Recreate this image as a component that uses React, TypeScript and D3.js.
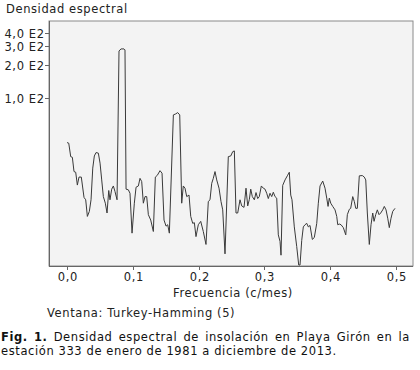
import React, { useEffect, useRef } from "react";
import * as d3 from "d3";

// frecuencia (c/mes) y densidad espectral
const freqs = [
  0.0, 0.0026, 0.0056, 0.0081, 0.0106, 0.0132, 0.0157, 0.0182, 0.0217, 0.0258,
  0.0284, 0.0309, 0.0339, 0.0365, 0.0391, 0.0415, 0.0441, 0.0476, 0.0502, 0.0527,
  0.0552, 0.0582, 0.0608, 0.0634, 0.0653, 0.0679, 0.0704, 0.0729, 0.076, 0.079,
  0.0821, 0.0866, 0.0881, 0.0897, 0.0932, 0.0957, 0.0988, 0.1023, 0.1049, 0.1084,
  0.1109, 0.1135, 0.116, 0.1185, 0.1211, 0.1236, 0.1272, 0.1312, 0.1342, 0.1372,
  0.1413, 0.1444, 0.1474, 0.1505, 0.153, 0.1555, 0.1616, 0.1652, 0.1682, 0.1713,
  0.1743, 0.1767, 0.1793, 0.1819, 0.1854, 0.188, 0.191, 0.1935, 0.196, 0.1995,
  0.2032, 0.2071, 0.2112, 0.2147, 0.2173, 0.2199, 0.2223, 0.2249, 0.2275, 0.231,
  0.234, 0.2366, 0.2401, 0.2451, 0.2488, 0.2518, 0.2543, 0.2568, 0.2594, 0.2629,
  0.2655, 0.269, 0.272, 0.2746, 0.2771, 0.2792, 0.2816, 0.2847, 0.2872, 0.2898,
  0.2922, 0.2953, 0.2983, 0.3009, 0.3035, 0.3059, 0.3085, 0.3111, 0.3135, 0.3161,
  0.3187, 0.3211, 0.3237, 0.3252, 0.3278, 0.3313, 0.3348, 0.3378, 0.34, 0.3419,
  0.3454, 0.3491, 0.3521, 0.3541, 0.3567, 0.3591, 0.3617, 0.3643, 0.3667, 0.3693,
  0.3728, 0.3758, 0.3795, 0.3819, 0.3845, 0.3886, 0.3921, 0.3947, 0.3967, 0.3986,
  0.4008, 0.4038, 0.4073, 0.4099, 0.4114, 0.4138, 0.4164, 0.4199, 0.4236, 0.426,
  0.429, 0.4311, 0.4342, 0.4366, 0.4388, 0.4412, 0.4442, 0.4488, 0.4518, 0.454,
  0.4564, 0.4594, 0.462, 0.4646, 0.4666, 0.4691, 0.4716, 0.4742, 0.4767, 0.4798,
  0.4822, 0.4848, 0.4874, 0.4898, 0.4924, 0.495, 0.4985,
];
const densidad = [
  38.6, 38.1, 28.6, 28.2, 20.8, 20.5, 15.6, 18.5, 18.5, 12.0,
  11.4, 8.0, 8.9, 11.4, 22.4, 29.0, 31.2, 30.8, 24.9, 17.4,
  12.2, 10.6, 8.6, 13.9, 11.4, 14.3, 15.3, 13.6, 11.4, 272,
  284, 284, 278, 14.3, 14.1, 13.1, 5.6, 10.6, 14.9, 15.3,
  18.0, 16.8, 10.6, 12.2, 12.2, 8.3, 7.4, 5.8, 18.5, 19.2,
  21.2, 20.1, 7.4, 6.5, 6.7, 5.6, 69.6, 71.1, 73.1, 69.6,
  10.6, 15.3, 14.6, 12.2, 12.6, 8.0, 6.9, 7.0, 5.2, 6.7,
  7.2, 5.8, 4.4, 11.0, 11.4, 16.2, 18.0, 20.8, 17.4, 14.6,
  11.0, 9.2, 3.6, 28.6, 29.0, 31.8, 32.3, 8.6, 8.6, 11.4,
  10.0, 9.7, 14.6, 10.0, 11.5, 14.3, 12.2, 11.4, 13.3, 11.7,
  12.2, 15.3, 14.6, 14.3, 13.1, 11.7, 13.1, 12.2, 13.4, 12.2,
  11.8, 5.4, 4.7, 3.5, 15.5, 17.4, 19.0, 20.5, 12.6, 11.4,
  6.4, 4.2, 2.84, 2.84, 4.8, 6.4, 6.7, 6.9, 6.4, 6.6,
  4.9, 5.1, 6.9, 10.6, 15.3, 17.0, 14.6, 11.8, 9.9, 11.8,
  10.6, 9.9, 9.2, 8.0, 6.7, 6.8, 6.7, 6.3, 5.4, 8.3,
  9.3, 9.5, 12.2, 11.0, 9.5, 9.5, 19.0, 19.1, 18.5, 17.4,
  8.6, 4.4, 6.7, 8.6, 7.2, 8.3, 9.2, 8.3, 8.6, 9.2,
  9.9, 9.2, 7.7, 6.3, 7.7, 8.9, 9.5,
];
const xTicks = [0, 0.1, 0.2, 0.3, 0.4, 0.5];
const yTicks = [100, 200, 300, 400];
const yTickLabels = ["1,0 E2", "2,0 E2", "3,0 E2", "4,0 E2"];

const captionBold = "Fig. 1.";
const captionLine1 = "Densidad espectral de insolación en Playa Girón en la";
const captionLine2 = "estación 333 de enero de 1981 a diciembre de 2013.";

const font = "'DejaVu Sans', Verdana, sans-serif";
const fontSize = 11.5;
const spacing = 0.6;

export default function App() {
  const ref = useRef<SVGSVGElement>(null);

  useEffect(() => {
    document.body.style.margin = "0";
    const svg = d3.select(ref.current);
    svg.selectAll("*").remove();

    const left = 49, top = 21, right = 413, bottom = 266;

    const x = d3.scaleLinear().domain([-0.0274, 0.5258]).range([left, right]);
    const y = d3.scaleLog().domain([2.78, 515]).range([bottom, top]);

    svg.append("rect")
      .attr("x", left).attr("y", top)
      .attr("width", right - left).attr("height", bottom - top)
      .attr("fill", "#f3f3f3")
      .attr("stroke", "#8a8a8a");

    const pts = freqs.map((f, i) => [f, densidad[i]] as [number, number]);
    const line = d3.line<[number, number]>()
      .x((d) => x(d[0]))
      .y((d) => Math.min(y(d[1]), bottom));

    svg.append("path")
      .datum(pts)
      .attr("d", line)
      .attr("fill", "none")
      .attr("stroke", "#3a3a3a")
      .attr("stroke-width", 1);

    // ejes
    svg.append("line")
      .attr("x1", left + 0.5).attr("x2", left + 0.5)
      .attr("y1", top).attr("y2", bottom)
      .attr("stroke", "#666");
    svg.append("line")
      .attr("x1", left).attr("x2", right)
      .attr("y1", bottom + 0.5).attr("y2", bottom + 0.5)
      .attr("stroke", "#666");

    const txt = (g: any) =>
      g.attr("font-family", font).attr("font-size", fontSize)
        .attr("letter-spacing", spacing).attr("fill", "#222");

    const gx = svg.append("g").call(txt);
    xTicks.forEach((t) => {
      const px = Math.round(x(t)) + 0.5;
      gx.append("line")
        .attr("x1", px).attr("x2", px)
        .attr("y1", bottom).attr("y2", bottom + 4)
        .attr("stroke", "#666");
      gx.append("text")
        .attr("x", px + spacing / 2).attr("y", 281)
        .attr("text-anchor", "middle")
        .text(t.toFixed(1).replace(".", ","));
    });

    const gy = svg.append("g").call(txt);
    yTicks.forEach((t, i) => {
      const py = Math.round(y(t)) + 0.5;
      gy.append("line")
        .attr("x1", left - 4).attr("x2", left)
        .attr("y1", py).attr("y2", py)
        .attr("stroke", "#666");
      gy.append("text")
        .attr("x", left - 5 + spacing).attr("y", py + 4)
        .attr("text-anchor", "end")
        .text(yTickLabels[i]);
    });

    svg.append("text").call(txt)
      .attr("x", 6).attr("y", 13)
      .text("Densidad espectral");

    svg.append("text").call(txt)
      .attr("x", 233).attr("y", 297)
      .attr("text-anchor", "middle")
      .text("Frecuencia (c/mes)");

    svg.append("text").call(txt)
      .attr("x", 47).attr("y", 317)
      .text("Ventana: Turkey-Hamming (5)");

    // leyenda de la figura, justificada
    const cap = svg.append("g").call(txt).attr("fill", "#111");
    const words1 = [
      ...captionBold.split(" ").map((w) => ({ w, b: true })),
      ...captionLine1.split(" ").map((w) => ({ w, b: false })),
    ];
    const nodes = words1.map((d) =>
      cap.append("text")
        .attr("y", 341)
        .attr("font-weight", d.b ? "bold" : "normal")
        .text(d.w)
    );
    const widths = nodes.map((n) => (n.node() as SVGTextElement).getComputedTextLength());
    const total = d3.sum(widths);
    const gap = (410 - 1 - total) / (nodes.length - 1);
    let cx = 1;
    nodes.forEach((n, i) => {
      n.attr("x", cx);
      cx += widths[i] + gap;
    });

    cap.append("text")
      .attr("x", 1).attr("y", 355)
      .text(captionLine2);
  }, []);

  return <svg ref={ref} width={420} height={370} style={{ display: "block" }} />;
}
